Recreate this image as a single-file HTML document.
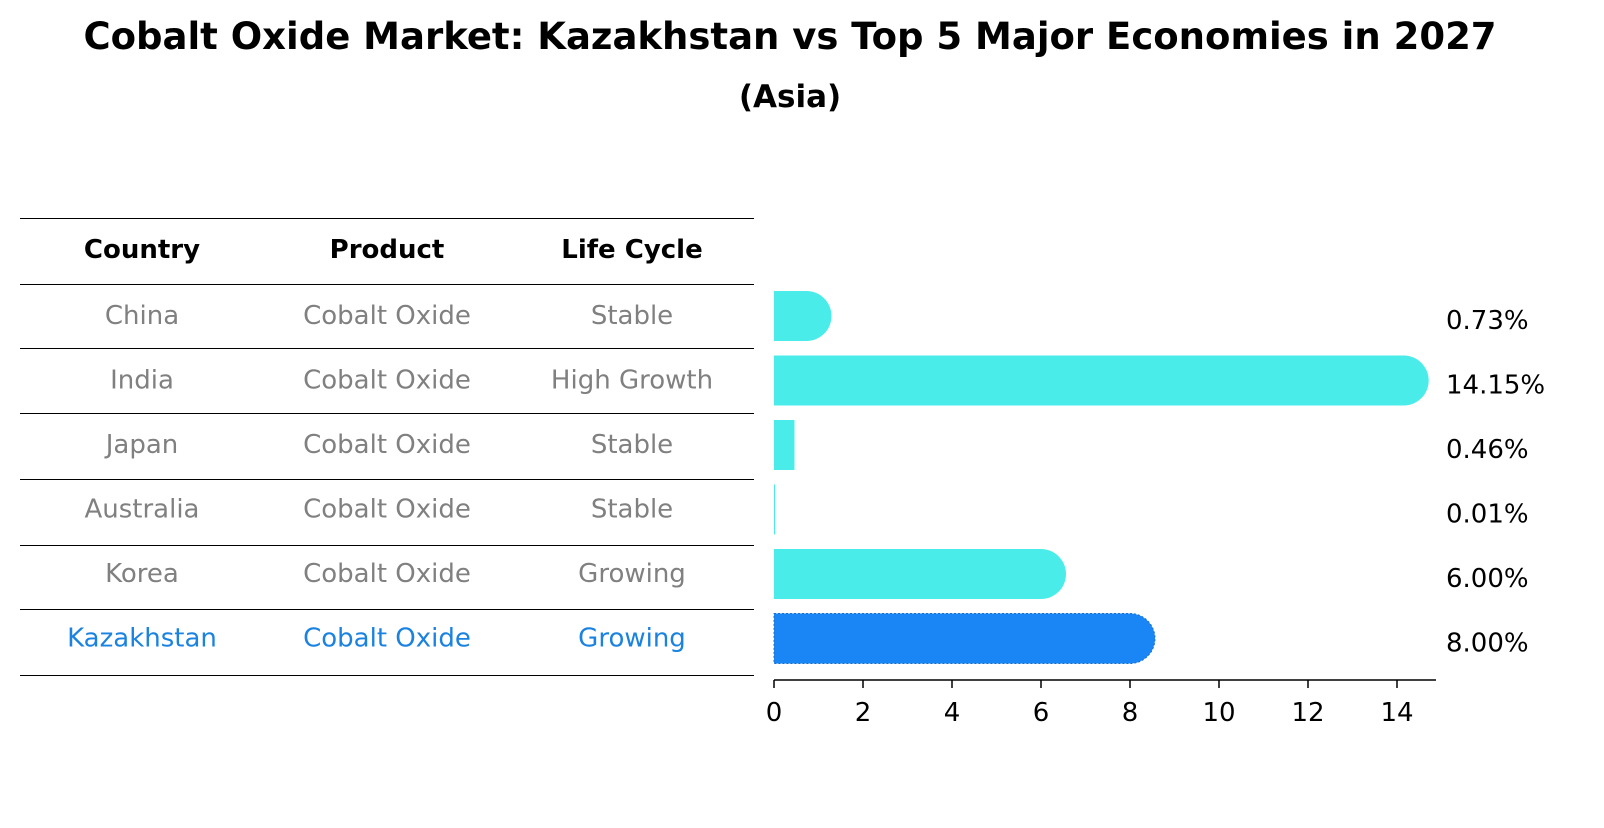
<!DOCTYPE html>
<html><head><meta charset="utf-8"><style>
body{margin:0;background:#fff;font-family:"Liberation Sans","DejaVu Sans",sans-serif}
</style></head><body>
<svg id="chart" width="1604" height="823" xmlns="http://www.w3.org/2000/svg" font-family="DejaVu Sans, Liberation Sans, sans-serif">
<text x="790" y="49" text-anchor="middle" font-size="37" font-weight="bold">Cobalt Oxide Market: Kazakhstan vs Top 5 Major Economies in 2027</text>
<text x="790" y="107" text-anchor="middle" font-size="31" font-weight="bold">(Asia)</text>
<g id="table"></g>
<g id="bars"></g>
<g id="axis"></g>
</svg>
<script>
const countries=["China","India","Japan","Australia","Korea","Kazakhstan"];
const products=["Cobalt Oxide","Cobalt Oxide","Cobalt Oxide","Cobalt Oxide","Cobalt Oxide","Cobalt Oxide"];
const lifecycle=["Stable","High Growth","Stable","Stable","Growing","Growing"];
const values=[0.73,14.15,0.46,0.01,6.00,8.00];
const ticks=[0,2,4,6,8,10,12,14];
const NS="http://www.w3.org/2000/svg";
const x0=774,sc=44.5;
const xs=v=>x0+v*sc;
const rowY=i=>316+i*64.5;
function mk(tag,attrs,parent,txt){const e=document.createElementNS(NS,tag);for(const k in attrs)e.setAttribute(k,attrs[k]);if(txt!==undefined)e.textContent=txt;parent.appendChild(e);return e;}
const tb=document.getElementById('table'),bg=document.getElementById('bars'),ax=document.getElementById('axis');
const lines=[218,284,348,413,479,545,609,675];
lines.forEach(y=>{const l=mk('line',{x1:20,x2:754,y1:y+0.5,y2:y+0.5,stroke:'#000','stroke-width':1},tb);

});
const cx=[142,387,632];
["Country","Product","Life Cycle"].forEach((h,j)=>{const t=mk('text',{x:cx[j],y:258,'text-anchor':'middle','font-size':26,'font-weight':'bold'},tb,h);

});
countries.forEach((c,i)=>{
 const last=i===countries.length-1;const col=last?'#1a82e0':'#808080';
 [c,products[i],lifecycle[i]].forEach((s,j)=>{const t=mk('text',{x:cx[j],y:rowY(i)+8,'text-anchor':'middle','font-size':26,fill:col},tb,s);
 
 });
 const v=values[i];const w=xs(v)-x0;const y=rowY(i)-25,h=50,r=25;
 const fill=last?'#1a85f5':'#4aece9';
 let d;
 if(w>r){d=`M${x0},${y}H${x0+w}A${r},${r} 0 0 1 ${x0+w},${y+h}H${x0}Z`;}
 else{d=`M${x0},${y}H${x0+Math.max(w,1)}V${y+h}H${x0}Z`;}
 const p=mk('path',{d:d,fill:fill},bg);
 if(last){p.setAttribute('stroke','#1a6fd0');p.setAttribute('stroke-dasharray','2,2');p.setAttribute('stroke-width','1');}
 
 
 const t=mk('text',{x:1446,y:rowY(i)+13,'font-size':26},bg,v.toFixed(2)+'%');
 
 
});
const al=mk('line',{x1:x0,x2:1436,y1:680,y2:680,stroke:'#000','stroke-width':1.5},ax);


ticks.forEach(t=>{const tl=mk('line',{x1:xs(t),x2:xs(t),y1:680,y2:688,stroke:'#000','stroke-width':1.5},ax);


const tx=mk('text',{x:xs(t),y:721,'text-anchor':'middle','font-size':26},ax,String(t));

});
</script>
</body></html>
